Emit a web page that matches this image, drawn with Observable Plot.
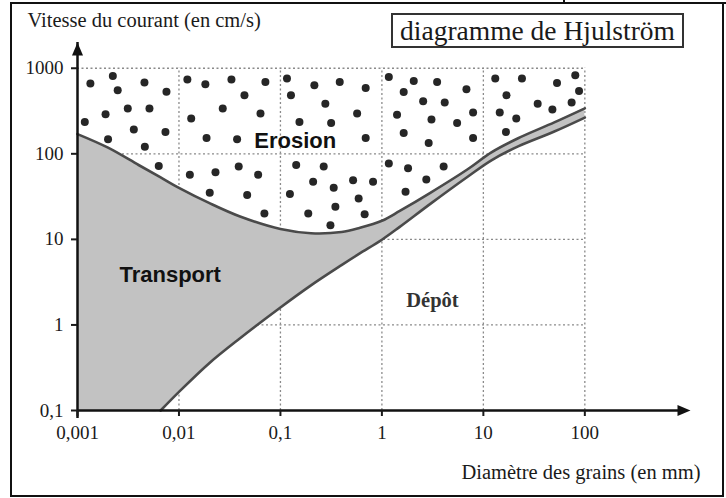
<!DOCTYPE html>
<html>
<head>
<meta charset="utf-8">
<script src="https://cdn.jsdelivr.net/npm/d3@7"></script>
<script src="https://cdn.jsdelivr.net/npm/@observablehq/plot@0.6"></script>
<style>
  body { margin: 0; background: #fff; }
  #wrap { position: relative; width: 726px; height: 498px; overflow: hidden; background: #fff; }
  #wrap svg { position: absolute; left: 0; top: 0; }
  #frame { position: absolute; left: 10px; top: 2px; width: 714px; height: 495px; box-sizing: border-box; border: 2px solid #111; }
  #tab { position: absolute; left: 563px; top: -4px; width: 180px; height: 8px; box-sizing: border-box; border: 2.5px solid #111; }
  #title { position: absolute; left: 391px; top: 13px; width: 293px; height: 35px; box-sizing: border-box;
           border: 2px solid #333; font-family: 'Liberation Serif', serif; font-size: 27.5px; line-height: 31px;
           text-align: center; color: #1a1a1a; background: #fff; white-space: nowrap; }
</style>
</head>
<body>
<div id="wrap"></div>
<script>
// ---- data ----
const titre = "diagramme de Hjulström";
const yTitle = "Vitesse du courant (en cm/s)";
const xTitle = "Diamètre des grains (en mm)";

const xTicks  = [0.001, 0.01, 0.1, 1, 10, 100];
const xLabels = ["0,001", "0,01", "0,1", "1", "10", "100"];
const yTicks  = [0.1, 1, 10, 100, 1000];
const yLabels = ["0,1", "1", "10", "100", "1000"];
const xDomain = [0.001, 1100];
const yDomain = [0.1, 2000];

// grain diameter (mm) and threshold velocities (cm/s)
const diametres     = [0.001, 0.002, 0.004, 0.0066, 0.01, 0.02, 0.04, 0.1, 0.2, 0.4, 0.6, 1, 1.5, 3, 7, 12, 22, 50, 100];
const erosion       = [170, 118, 74, 53, 40, 26.5, 18.5, 13.2, 11.8, 12.2, 13.6, 16.5, 21.5, 35, 66, 104, 152, 233, 340];
const sedimentation = [null, null, null, 0.1, 0.165, 0.36, 0.7, 1.6, 2.9, 5.0, 6.8, 9.9, 14, 26, 54, 84, 122, 182, 265];

// dots of the erosion field [diameter, velocity]
const pointsErosion = [
  [0.00134,662],[0.00223,813],[0.00249,553],[0.00457,680],[0.00753,533],[0.00118,235],[0.00189,290],
  [0.00313,338],[0.00512,338],[0.00359,192],[0.00736,180],[0.0020,148],[0.00461,121],[0.00632,72],
  [0.0121,738],[0.0182,650],[0.0329,738],[0.0711,692],[0.0442,483],[0.0132,258],[0.027,338],[0.0636,295],
  [0.0187,153],[0.0374,148],[0.0128,57],[0.0229,61],[0.0388,71],[0.0603,57],[0.0201,35],[0.047,33],[0.0695,20],
  [0.116,759],[0.127,483],[0.216,632],[0.384,692],[0.277,386],[0.154,235],[0.316,229],[0.57,295],[0.143,74],
  [0.267,71],[0.21,47],[0.335,40],[0.52,49],[0.124,34],[0.188,20],[0.348,24],[0.311,14.6],[0.59,30],
  [0.692,589],[0.692,153],[0.818,47],[0.676,19.6],
  [1.17,791],[2.06,710],[3.5,692],[6.81,568],[1.64,528],[2.55,411],[4.16,397],[1.41,287],[3.08,251],[5.51,229],
  [7.92,305],[1.64,175],[2.89,134],[7.92,153],[1.17,77],[1.81,68],[4.06,71],[2.74,50],[1.71,36],
  [13.1,759],[24,759],[53.2,673],[80.5,828],[87.7,543],[16.9,483],[14.5,305],[34.3,386],[47.9,329],[74.1,397],
  [21.1,258],[16.7,180]
];

const zones  = ["Erosion", "Transport", "Dépôt"];
const zoneX  = [0.14, 0.0082, 3.15];
const zoneY  = [140, 3.8, 1.94];

// ---- build ----
const rows = diametres.map((d, i) => ({d, e: erosion[i], s: sedimentation[i]}));
const rowsSed = rows.filter(r => r.s != null);
const zoneRows = zones.map((t, i) => ({t, x: zoneX[i], y: zoneY[i]}));

const arrowHead = {
  draw(ctx) { ctx.moveTo(0, 0); ctx.lineTo(5.5, 13); ctx.lineTo(-5.5, 13); ctx.closePath(); }
};

const curveColor = "#4a4a4a";
const gridStyle = {stroke: "#8a8a8a", strokeWidth: 1.3, strokeDasharray: "2,2.5"};

const chart = Plot.plot({
  width: 726,
  height: 498,
  marginLeft: 77,
  marginRight: 36,
  marginTop: 42,
  marginBottom: 88,
  x: {type: "log", domain: xDomain},
  y: {type: "log", domain: yDomain},
  style: {fontFamily: "'Liberation Serif', serif", fontSize: "19px", background: "transparent", color: "#1a1a1a", overflow: "visible"},
  marks: [
    // dotted grid
    Plot.ruleX(xTicks.slice(1), {y1: yTicks[0], y2: yTicks[yTicks.length - 1], ...gridStyle}),
    Plot.ruleY(yTicks.slice(1), {x1: xTicks[0], x2: xTicks[xTicks.length - 1], ...gridStyle}),
    // transport zone
    Plot.areaY(rows, {x: "d", y1: r => r.s == null ? yDomain[0] : r.s, y2: "e", curve: "catmull-rom", fill: "#c2c2c2"}),
    // erosion dots
    Plot.dot(pointsErosion, {x: d => d[0], y: d => d[1], r: 4, fill: "#262626", stroke: "none"}),
    // threshold curves
    Plot.line(rows, {x: "d", y: "e", curve: "catmull-rom", stroke: curveColor, strokeWidth: 2.6}),
    Plot.line(rowsSed, {x: "d", y: "s", curve: "catmull-rom", stroke: curveColor, strokeWidth: 2.6}),
    // axes
    Plot.ruleX([xDomain[0]], {y1: yDomain[0], y2: yDomain[1], stroke: "#111", strokeWidth: 2.5, insetTop: 8}),
    Plot.ruleY([yDomain[0]], {x1: xDomain[0], x2: xDomain[1], stroke: "#111", strokeWidth: 2.5, insetRight: 8}),
    Plot.dot([[xDomain[0], yDomain[1]]], {x: d => d[0], y: d => d[1], symbol: arrowHead, fill: "#111", stroke: "none"}),
    Plot.dot([[xDomain[1], yDomain[0]]], {x: d => d[0], y: d => d[1], symbol: arrowHead, rotate: 90, fill: "#111", stroke: "none"}),
    Plot.axisX(xTicks, {anchor: "bottom", tickSize: 6, tickPadding: 9, strokeWidth: 2, fontSize: 19,
      tickFormat: d => xLabels[xTicks.indexOf(d)], label: null, color: "#1a1a1a"}),
    Plot.axisY(yTicks, {anchor: "left", tickSize: 6, tickPadding: 8, strokeWidth: 2, fontSize: 19,
      tickFormat: d => yLabels[yTicks.indexOf(d)], label: null, color: "#1a1a1a"}),
    // axis titles
    Plot.text([yTitle], {frameAnchor: "top-left", dx: -50, dy: -22, textAnchor: "start", lineAnchor: "middle",
      fontSize: 20.5, fill: "#1a1a1a"}),
    Plot.text([xTitle], {frameAnchor: "bottom-right", dx: 10, dy: 62, textAnchor: "end", lineAnchor: "middle",
      fontSize: 20.5, fill: "#1a1a1a"}),
    // zone labels
    Plot.text(zoneRows.slice(0, 2), {x: "x", y: "y", text: "t", fontFamily: "'Liberation Sans', Arial, sans-serif",
      fontWeight: "bold", fontSize: 22, fill: "#111"}),
    Plot.text(zoneRows.slice(2), {x: "x", y: "y", text: "t", fontFamily: "'Liberation Serif', serif",
      fontWeight: "bold", fontSize: 20.5, fill: "#333"})
  ]
});

const wrap = document.getElementById("wrap");
wrap.appendChild(chart);
const frame = document.createElement("div"); frame.id = "frame"; wrap.appendChild(frame);
const tab = document.createElement("div"); tab.id = "tab"; wrap.appendChild(tab);
const t = document.createElement("div"); t.id = "title"; t.textContent = titre; wrap.appendChild(t);
</script>
</body>
</html>
